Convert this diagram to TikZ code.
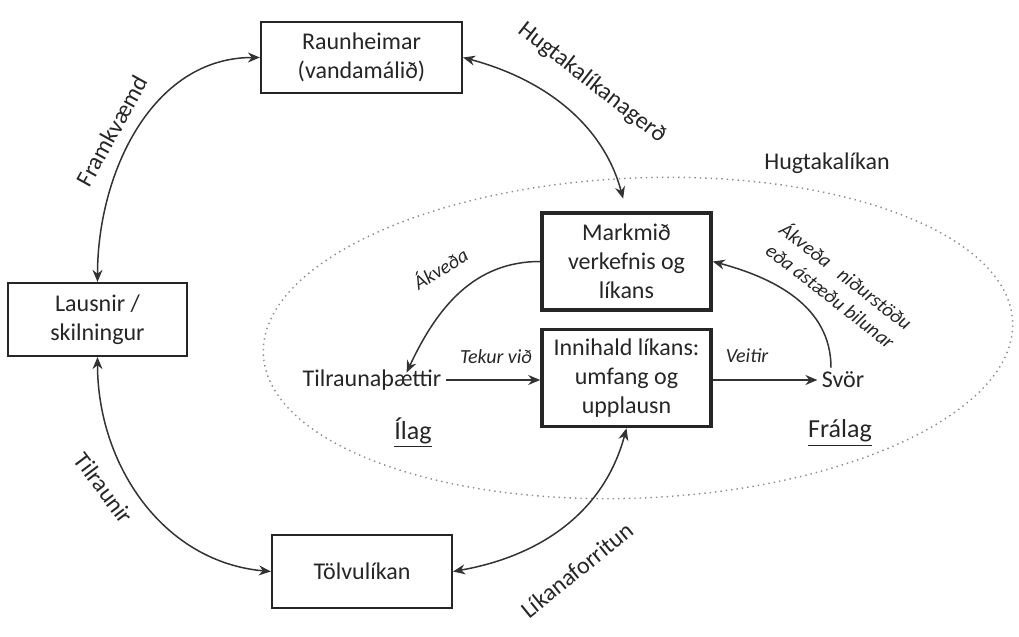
\documentclass[tikz,border=0pt]{standalone}
\usepackage{fontspec}
\setmainfont{Carlito}
\usepackage{tikz}
\usetikzlibrary{arrows.meta,calc,positioning}
\definecolor{FigDark}{HTML}{262626}
\definecolor{FigLine}{HTML}{333333}
\definecolor{FigDots}{HTML}{8A8A8A}
\newcommand{\HLBoxText}{\fontsize{12}{14.5}\selectfont}
\newcommand{\HLSideText}{\fontsize{13}{15}\selectfont}
\newcommand{\HLEdgeText}{\fontsize{10}{12.6}\selectfont\itshape}
\tikzset{
  hlbase/.style={
    draw=FigDark,
    fill=white,
    align=center,
    inner sep=2pt,
    text=FigDark,
    font=\HLBoxText
  },
  worldbox/.style={hlbase, rectangle, line width=1.1pt},
  modelbox/.style={hlbase, rectangle, line width=1.8pt,
    minimum width=84.5pt, minimum height=48.5pt},
  plaintext/.style={text=FigDark, font=\HLBoxText, inner sep=2pt},
  sidetext/.style={text=FigDark, font=\HLSideText, inner sep=1pt},
  pathlabel/.style={text=FigDark, font=\HLBoxText, inner sep=1pt},
  edgelabel/.style={text=FigDark, font=\HLEdgeText, inner sep=1pt, align=center},
  conceptring/.style={draw=FigDots, dotted, line width=0.7pt},
  twoarrow/.style={
    {Stealth[length=6pt,width=5pt]}-{Stealth[length=6pt,width=5pt]},
    draw=FigLine,
    line width=0.75pt
  },
  onearrow/.style={
    -{Stealth[length=6pt,width=5pt]},
    draw=FigLine,
    line width=0.75pt
  }
}

\begin{document}
\begin{tikzpicture}[x=0.5pt,y=0.5pt]
\path[use as bounding box] (0,0) rectangle (1019,637);

% hugtakalikan
\draw[conceptring, rotate around={2.5:(638,299)}] (638,299) ellipse [x radius=375, y radius=160];
\node[plaintext] (hugtak) at (827,474) {Hugtakalíkan};

% kassar
\node[worldbox, minimum width=100.5pt, minimum height=35.5pt] (raun) at (361.5,579.5)
  {Raunheimar\\(vandamálið)};
\node[worldbox, minimum width=89.5pt, minimum height=36.5pt] (lausn) at (97.5,317.5)
  {Lausnir /\\skilningur};
\node[worldbox, minimum width=90pt, minimum height=36.5pt] (tolvu) at (362,65.5)
  {Tölvulíkan};
\node[modelbox] (markmid) at (626.5,375.5) {Markmið\\verkefnis og\\líkans};
\node[modelbox] (innihald) at (626.5,259) {Innihald líkans:\\umfang og\\upplausn};

\node[plaintext] (tilr) at (372,257) {Tilraunaþættir};
\node[plaintext] (svor) at (843,257) {Svör};
\node[sidetext] (ilag) at (413,204) {\underline{Ílag}};
\node[sidetext] (fralag) at (840,204) {\underline{Frálag}};

% hringurinn
\draw[twoarrow, shorten >=6.5pt] (raun.east) to[out=-15, in=105] (markmid.north);
\draw[twoarrow] (raun.west) to[out=180, in=90] (lausn.north);
\draw[twoarrow] (lausn.south) to[out=-90, in=175] (tolvu.west);
\draw[twoarrow] (tolvu.east) to[out=10, in=-105] (innihald.south);

\node[pathlabel, rotate=-38] at (592,554) {Hugtakalíkanagerð};
\node[pathlabel, rotate=61] at (112,506) {Framkvæmd};
\node[pathlabel, rotate=-53] at (104,149) {Tilraunir};
\node[pathlabel, rotate=39] at (577,67) {Líkanaforritun};

% innan likansins
\draw[onearrow, shorten >=-4pt] (markmid.west) to[out=180, in=65] ([xshift=19pt]tilr.north);
\draw[onearrow] (tilr.east) -- (tilr.east -| innihald.west);
\draw[onearrow] (innihald.east |- svor.west) -- (svor.west);
\draw[onearrow] ([xshift=-6pt]svor.north) to[out=90, in=-15] (markmid.east);

\node[edgelabel, rotate=32] at (440,369) {Ákveða};
\node[edgelabel] at (496,280) {Tekur við};
\node[edgelabel] at (747,281) {Veitir};
\node[edgelabel, rotate=-38] at (839,352) {Ákveða\ \ \ niðurstöðu\\eða ástæðu bilunar};

\end{tikzpicture}
\end{document}
